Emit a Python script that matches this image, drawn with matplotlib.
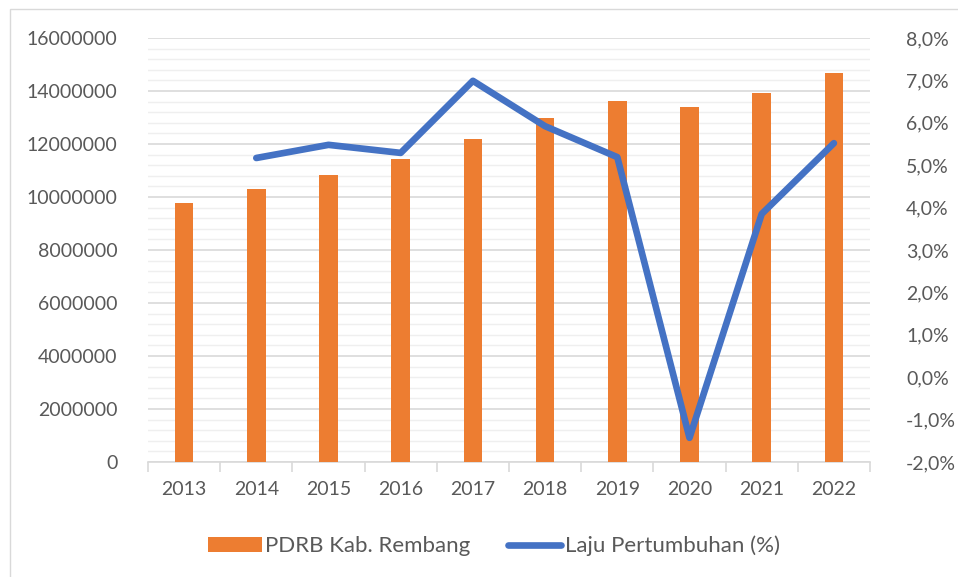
import matplotlib
matplotlib.use("Agg")
import matplotlib.pyplot as plt
from matplotlib.ticker import MultipleLocator, FuncFormatter
from matplotlib.lines import Line2D
from matplotlib.patches import Patch, Rectangle
import numpy as np

years = ["2013", "2014", "2015", "2016", "2017", "2018", "2019", "2020", "2021", "2022"]
pdrb = [9770000, 10300000, 10830000, 11430000, 12190000, 12980000, 13620000, 13400000, 13920000, 14680000]
growth_years = ["2014", "2015", "2016", "2017", "2018", "2019", "2020", "2021", "2022"]
growth = [5.17, 5.48, 5.29, 6.99, 5.92, 5.19, -1.43, 3.85, 5.52]

plt.rcParams['font.family'] = ['Lato', 'DejaVu Sans']
txt = '#595959'
orange = '#ED7D31'
blue = '#4472C4'

fig = plt.figure(figsize=(9.58, 5.77), dpi=100)
fig.patches.append(Rectangle((10/958, -0.1), 1.2, (1 - 9/577) + 0.1, transform=fig.transFigure,
                             fill=False, edgecolor='#D9D9D9', linewidth=1.0))
ax = fig.add_axes([148/958, 1 - 462/577, (870 - 148)/958, (462 - 38)/577])
x = np.arange(len(years))
ax.bar(x, pdrb, width=0.26, color=orange, zorder=3)
ax.set_xlim(-0.5, len(years) - 0.5)
ax.set_ylim(0, 16000000)
ax.yaxis.set_major_locator(MultipleLocator(2000000))
ax.yaxis.set_minor_locator(MultipleLocator(400000))
ax.yaxis.set_major_formatter(FuncFormatter(lambda v, p: f"{int(v)}"))
ax.grid(axis='y', which='major', color='#D9D9D9', linewidth=1.2, zorder=0)
ax.grid(axis='y', which='minor', color='#EFEFEF', linewidth=1.0, zorder=0)
ax.set_axisbelow(True)
for s in ['top', 'right', 'left']:
    ax.spines[s].set_visible(False)
ax.spines['bottom'].set_color('#D9D9D9')
ax.spines['bottom'].set_linewidth(1.2)
ax.set_xticks(x)
ax.set_xticklabels(years)
ax.set_xticks(np.arange(-0.5, len(years)), minor=True)
ax.tick_params(axis='x', which='major', length=0, pad=14, labelsize=14, labelcolor=txt)
ax.tick_params(axis='x', which='minor', length=7, color='#D9D9D9', width=1.2)
ax.tick_params(axis='y', which='both', length=0, labelsize=14, labelcolor=txt, pad=22)

ax2 = ax.twinx()
gx = [years.index(y) for y in growth_years]
ax2.plot(gx, growth, color=blue, linewidth=4.8, solid_capstyle='round', solid_joinstyle='round', zorder=4)
ax2.set_ylim(-2, 8)
ax2.yaxis.set_major_locator(MultipleLocator(1))
ax2.yaxis.set_major_formatter(FuncFormatter(lambda v, p: f"{v:.1f}%".replace('.', ',')))
ax2.tick_params(axis='y', length=0, labelsize=14, labelcolor=txt, pad=26)
for s in ax2.spines.values():
    s.set_visible(False)

handles = [Patch(facecolor=orange, edgecolor='none'),
           Line2D([0], [0], color=blue, linewidth=4.8, solid_capstyle='round')]
fig.legend(handles, ["PDRB Kab. Rembang", "Laju Pertumbuhan (%)"], loc='center',
           bbox_to_anchor=(494/958, 1 - 546/577), ncol=2, frameon=False, fontsize=16,
           labelcolor=txt, handlelength=2.4, handleheight=0.7, handletextpad=0.15,
           columnspacing=1.7)

fig.savefig("out.png", dpi=100)
